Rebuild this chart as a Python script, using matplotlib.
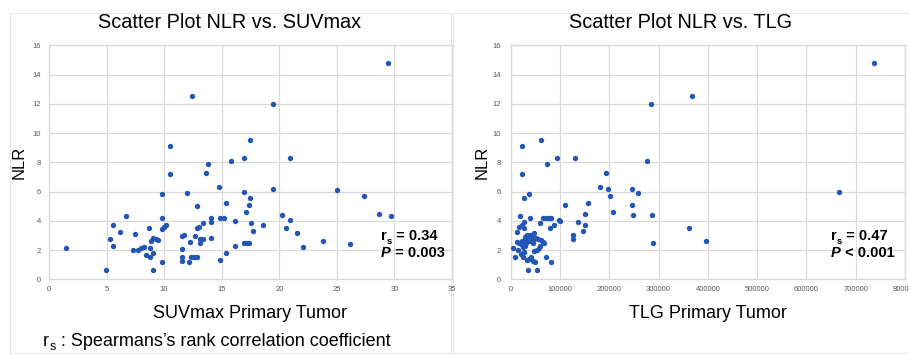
import matplotlib
matplotlib.use("Agg")
import matplotlib.pyplot as plt
import matplotlib.ticker as mticker
from matplotlib.patches import Rectangle
from matplotlib.text import Annotation

plt.rcParams['font.family'] = ['Liberation Sans', 'DejaVu Sans']

# ---- data: NLR vs SUVmax ----
suvmax = [1.5, 4.98, 5.3, 5.56, 5.59, 6.17, 6.69, 7.27, 7.5, 7.7, 8.02, 8.22, 8.45, 8.66,
          8.8, 8.8, 8.89, 9.03, 9.03, 9.0, 9.26, 9.5, 9.79, 9.79, 9.81, 9.79, 9.99, 10.19,
          10.5, 10.5, 11.52, 11.58, 11.52, 11.52, 11.7, 11.96, 12.16, 12.28, 12.45, 12.36,
          12.62, 12.68, 12.83, 12.88, 12.88, 13.03, 13.09, 13.09, 13.35, 13.4, 13.61, 13.81,
          14.07, 14.07, 14.07, 14.79, 14.85, 14.85, 15.17, 15.37, 15.4, 15.78, 16.18, 16.18,
          16.9, 16.9, 16.94, 17.11, 17.17, 17.37, 17.37, 17.49, 17.49, 17.57, 17.72, 18.62,
          19.43, 19.48, 20.27, 20.61, 20.93, 20.93, 21.57, 22.09, 23.83, 25.04, 26.11, 27.36,
          28.69, 29.47, 29.73]
nlr_suv = [2.12, 0.64, 2.76, 3.69, 2.28, 3.24, 4.33, 1.98, 3.08, 2.03, 2.12, 2.21, 1.66, 3.53,
           1.5, 2.12, 2.64, 0.64, 1.78, 2.85, 2.73, 2.69, 5.83, 4.22, 3.46, 1.19, 3.6, 3.69,
           9.12, 7.23, 2.96, 2.07, 1.55, 1.25, 3.0, 5.88, 1.19, 2.55, 12.54, 1.55,
           1.55, 2.96, 3.53, 1.53, 5.04, 3.56, 2.76, 2.51, 2.78, 3.87, 7.27, 7.86,
           4.17, 3.94, 2.8, 6.29, 1.3, 4.17, 4.17, 1.82, 5.22, 8.07, 4.01, 2.3,
           8.3, 5.97, 2.46, 4.63, 2.48, 5.1, 2.51, 9.53, 5.58, 3.85, 3.28, 3.74,
           12.01, 6.18, 4.42, 3.53, 8.27, 4.06, 3.17, 2.19, 2.64, 6.13, 2.44, 5.72,
           4.49, 14.77, 4.35]

# ---- data: NLR vs TLG ----
tlg = [737000, 367800, 285300, 61500, 23000, 94000, 129800, 73000, 275900, 23000,
       194000, 181900, 197400, 200800, 246800, 257600, 666000, 37200, 27700, 110200,
       156200, 245400, 206900, 150800, 248100, 286700, 18900, 39900, 64900, 71000,
       77000, 81000, 97400, 100700, 27000, 137300, 58800, 150100, 88600, 79800,
       27000, 361700, 16900, 12200, 146700, 126400, 126400, 395500, 288700, 4000,
       8100, 35800, 52700, 81800, 71700, 22000, 12000, 17000, 20000, 25000,
       28000, 30000, 33000, 36000, 40000, 43000, 46000, 48000, 52000, 56000,
       62000, 66000, 68000, 15000, 20000, 24000, 27000, 30000, 34000, 38000,
       42000, 46000, 50000, 54000, 58000, 45000, 37000, 23000, 32000, 60000, 48000]
nlr_tlg = [14.77, 12.54, 12.01, 9.53, 9.12, 8.27, 8.27, 7.86, 8.07, 7.23,
           7.29, 6.31, 6.15, 5.72, 6.2, 5.88, 5.99, 5.83, 5.58, 5.1,
           5.22, 5.06, 4.63, 4.49, 4.42, 4.38, 4.33, 4.17, 4.17, 4.22,
           4.2, 4.17, 4.06, 3.99, 3.94, 3.9, 3.87, 3.74, 3.72, 3.53,
           3.49, 3.53, 3.6, 3.21, 3.28, 3.03, 2.74, 2.64, 2.51, 2.12,
           1.55, 0.64, 0.64, 1.19, 1.55, 3.7, 2.55, 2.5, 2.4, 2.2,
           2.9, 2.75, 3.0, 2.95, 3.05, 2.9, 2.7, 3.15, 2.8, 2.75,
           2.7, 2.55, 2.45, 2.0, 1.7, 1.5, 1.85, 2.25, 1.3, 1.4,
           1.5, 1.25, 1.2, 2.0, 2.15, 2.45, 2.6, 2.65, 2.5, 2.3, 1.95]

suv_ticks = [0, 5, 10, 15, 20, 25, 30, 35]
tlg_ticks = [0, 100000, 200000, 300000, 400000, 500000, 600000, 700000, 800000]
nlr_ticks = [0, 2, 4, 6, 8, 10, 12, 14, 16]

W, H = 909, 355
fig = plt.figure(figsize=(W / 100, H / 100), dpi=100)
fig.patch.set_facecolor('white')

# faint chart-area borders (drawn beneath the axes)
for x0, x1 in [(10, 451), (453, 915)]:
    fig.add_artist(Rectangle((x0 / W, 1 - 353 / H), (x1 - x0) / W, (353 - 13) / H,
                             transform=fig.transFigure, fill=False,
                             edgecolor='#e8e8e8', lw=0.8, zorder=-5))

grid_c = '#d9d9d9'
tick_c = '#595959'
dot_c = '#2356b6'

bottom = (H - 279.3) / H
height = 234 / H
ax1 = fig.add_axes([49 / W, bottom, 403 / W, height])
ax2 = fig.add_axes([510.7 / W, bottom, 394.3 / W, height])


def style(ax, xticks, xmax, ypad, lblx):
    ax.set_xlim(0, xmax)
    ax.set_ylim(0, 16)
    ax.set_xticks(xticks)
    ax.set_yticks(nlr_ticks)
    ax.grid(True, color=grid_c, lw=0.9)
    ax.set_axisbelow(True)
    for s in ax.spines.values():
        s.set_color(grid_c)
        s.set_linewidth(0.9)
    ax.tick_params(axis='both', length=0, labelsize=5.5, labelcolor=tick_c)
    ax.tick_params(axis='x', pad=4.5)
    ax.tick_params(axis='y', pad=ypad)
    ax.set_ylabel('NLR', fontsize=12)
    ax.yaxis.set_label_coords(lblx, 0.5)


ax1.scatter(suvmax, nlr_suv, s=15, color=dot_c, linewidths=0, zorder=3)
style(ax1, suv_ticks, 35, 5.8, -0.055)
ax2.scatter(tlg, nlr_tlg, s=15, color=dot_c, linewidths=0, zorder=3)
style(ax2, tlg_ticks, 800000, 7.0, -0.053)
ax2.xaxis.set_major_formatter(mticker.FuncFormatter(lambda v, p: f'{int(v)}'))

# titles and x labels
fig.text(230 / W, 1 - 28 / H, 'Scatter Plot NLR vs. SUVmax', ha='center', va='baseline', fontsize=14.3)
fig.text(681 / W, 1 - 28 / H, 'Scatter Plot NLR vs. TLG', ha='center', va='baseline', fontsize=14.3)
fig.text(250 / W, 1 - 318 / H, 'SUVmax Primary Tumor', ha='center', va='baseline', fontsize=13)
fig.text(708 / W, 1 - 318 / H, 'TLG Primary Tumor', ha='center', va='baseline', fontsize=13)


def rs_text(ax, x, y1, y2, rs, ptxt, fs=10.5):
    t = ax.text(x, y1, 'r', transform=ax.transAxes, fontsize=fs, fontweight='bold', va='baseline')
    s = ax.annotate('s', xy=(1, 0), xycoords=t, xytext=(0.2, -2.5), textcoords='offset points',
                    fontsize=fs * 0.65, fontweight='bold', va='bottom')
    ax.annotate(f' = {rs}', xy=(1, 0), xycoords=(s, t), fontsize=fs, fontweight='bold', va='bottom')
    p = ax.text(x, y2, 'P', transform=ax.transAxes, fontsize=fs, fontweight='bold',
                fontstyle='italic', va='baseline')
    ax.annotate(ptxt, xy=(1, 0), xycoords=p, fontsize=fs, fontweight='bold', va='bottom')


rs_text(ax1, 0.824, 0.168, 0.097, '0.34', ' = 0.003')
rs_text(ax2, 0.812, 0.168, 0.097, '0.47', ' < 0.001')

# footnote
ft = fig.text(43 / W, 1 - 346 / H, 'r', fontsize=13, va='baseline')
fs_ = fig.add_artist(Annotation('s', xy=(1, 0), xycoords=ft, xytext=(0.3, -2.5),
                                textcoords='offset points', fontsize=9, va='bottom'))
fig.add_artist(Annotation(' : Spearmans\u2019s rank correlation coefficient', xy=(1, 0),
                          xycoords=(fs_, ft), fontsize=13, va='bottom'))

fig.savefig('out.png', dpi=100)
